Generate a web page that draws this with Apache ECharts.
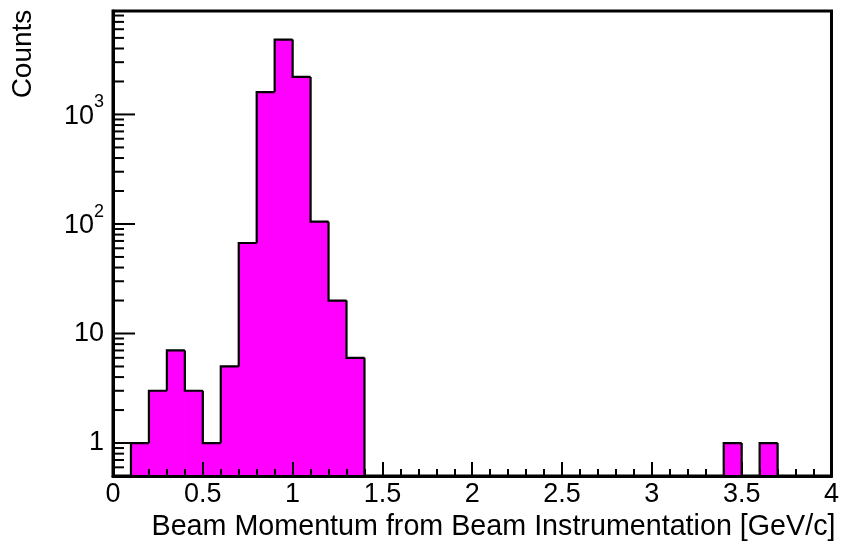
<!DOCTYPE html>
<html>
<head>
<meta charset="utf-8">
<script src="https://cdn.jsdelivr.net/npm/echarts@6/dist/echarts.min.js"></script>
<style>
html,body{margin:0;padding:0;background:#ffffff;}
#chart{width:842px;height:546px;}
</style>
</head>
<body>
<div id="chart"></div>
<script>
// ---- data ----
const binEdges = [0.0,0.1,0.2,0.3,0.4,0.5,0.6,0.7,0.8,0.9,1.0,1.1,1.2,1.3,1.4,1.5,1.6,1.7,1.8,1.9,2.0,
                  2.1,2.2,2.3,2.4,2.5,2.6,2.7,2.8,2.9,3.0,3.1,3.2,3.3,3.4,3.5,3.6,3.7,3.8,3.9,4.0];
const counts = [0,1,3,7,3,1,5,67,1600,4830,2200,105,20,6,0,0,0,0,0,0,
                0,0,0,0,0,0,0,0,0,0,0,0,0,0,1,0,1,0,0,0];
const xMin = 0, xMax = 4, xStep = 0.5;
const yMin = 0.5, yMax = 8800;
const yMajorTicks = [1, 10, 100, 1000];
const yMinorTicks = [0.6,0.7,0.8,0.9, 2,3,4,5,6,7,8,9, 20,30,40,50,60,70,80,90,
                     200,300,400,500,600,700,800,900, 2000,3000,4000,5000,6000,7000,8000];
const xTitle = 'Beam Momentum from Beam Instrumentation [GeV/c]';
const yTitle = 'Counts';

// ---- build ----
const FONT = '"Liberation Sans", Arial, Helvetica, sans-serif';
const histData = counts.map((c, i) => [binEdges[i], binEdges[i + 1], c, i > 0 ? counts[i - 1] : 0]);
const tickData = yMajorTicks.map(v => [xMin, v, 1]).concat(yMinorTicks.map(v => [xMin, v, 0]));

function renderHist(params, api) {
  const lo = api.value(0), hi = api.value(1), c = api.value(2), prev = api.value(3);
  const last = params.dataIndex === counts.length - 1;
  const pLo = api.coord([lo, c > 0 ? c : yMin]);
  const pHi = api.coord([hi, c > 0 ? c : yMin]);
  const yPrev = api.coord([lo, prev > 0 ? prev : yMin])[1];
  const yBase = api.coord([lo, yMin])[1];
  const children = [];
  if (c > 0) {
    children.push({type: 'rect', z2: 0,
      shape: {x: pLo[0], y: pLo[1], width: pHi[0] - pLo[0], height: yBase - pLo[1]},
      style: {fill: '#ff00ff', stroke: '#ff00ff', lineWidth: 1}});
  }
  if (c > 0 || prev > 0) {
    const pts = [[pLo[0], yPrev], [pLo[0], pLo[1]], [pHi[0], pHi[1]]];
    if (last && c > 0) pts.push([pHi[0], yBase]);
    children.push({type: 'polyline', z2: 1, shape: {points: pts},
      style: {stroke: '#000', lineWidth: 2.2, fill: null, lineJoin: 'miter'}});
  }
  return {type: 'group', children: children};
}

function renderTick(params, api) {
  const p = api.coord([api.value(0), api.value(1)]);
  const len = api.value(2) ? 22 : 11;
  return {type: 'line', shape: {x1: p[0], y1: p[1], x2: p[0] + len, y2: p[1]},
    style: {stroke: '#000', lineWidth: 2}};
}

function yLabel(v) {
  const e = Math.round(Math.log10(v));
  if (Math.abs(Math.pow(10, e) - v) > 1e-6 * v) return '';
  if (e === 0) return '1';
  if (e === 1) return '10';
  return '{b|10}{s|' + e + '}';
}

const chart = echarts.init(document.getElementById('chart'), null, {renderer: 'canvas'});
chart.setOption({
  animation: false,
  backgroundColor: '#ffffff',
  textStyle: {fontFamily: FONT},
  grid: {left: 113, right: 7, top: 11, bottom: 70, show: true, borderColor: '#000', borderWidth: 3, backgroundColor: 'transparent'},
  xAxis: {
    type: 'value', min: xMin, max: xMax, interval: xStep, z: 3,
    axisLine: {show: true, onZero: false, lineStyle: {color: '#000', width: 3}},
    axisTick: {show: true, inside: true, length: 14, lineStyle: {color: '#000', width: 2}},
    minorTick: {show: true, splitNumber: 5, length: 7, lineStyle: {color: '#000', width: 2}},
    splitLine: {show: false},
    axisLabel: {color: '#000', fontSize: 27, fontFamily: FONT, margin: 5},
    name: xTitle, nameLocation: 'end', nameGap: 4,
    nameTextStyle: {color: '#000', fontSize: 28.7, fontFamily: FONT, align: 'right', verticalAlign: 'top', padding: [37, 0, 0, 0]}
  },
  yAxis: {
    type: 'log', logBase: 10, min: yMin, max: yMax, z: 3,
    axisLine: {show: true, lineStyle: {color: '#000', width: 3}},
    axisTick: {show: false},
    splitLine: {show: false},
    axisLabel: {
      color: '#000', fontSize: 27, fontFamily: FONT, margin: 9, showMinLabel: false, showMaxLabel: false,
      formatter: yLabel,
      rich: {
        b: {fontSize: 27, fontFamily: FONT, color: '#000', padding: [4, 0, 0, 0]},
        s: {fontSize: 18, fontFamily: FONT, color: '#000', padding: [0, 0, 24, 0]}
      }
    }
  },
  graphic: [{
    type: 'text', x: 23, y: 54, rotation: Math.PI / 2,
    style: {text: yTitle, fontSize: 28, fontFamily: FONT, fill: '#000', align: 'center', verticalAlign: 'middle'}
  }],
  series: [
    {type: 'custom', name: 'hist', data: histData, renderItem: renderHist, z: 2, silent: true,
     encode: {x: [0, 1], y: 2}, clip: false},
    {type: 'custom', name: 'yticks', data: tickData, renderItem: renderTick, z: 4, silent: true,
     encode: {x: 0, y: 1}, clip: false}
  ]
});
</script>
</body>
</html>
